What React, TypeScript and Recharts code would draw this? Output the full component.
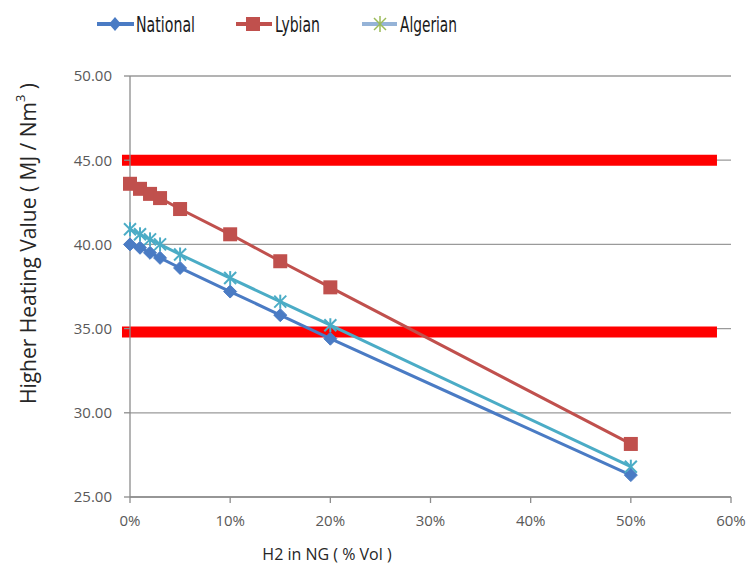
import React from "react";
import {
  LineChart,
  Line,
  XAxis,
  YAxis,
  CartesianGrid,
  ReferenceLine,
  Legend,
} from "recharts";

const h2Pct = [0, 1, 2, 3, 5, 10, 15, 20, 50];
const nationalHHV = [40.0, 39.8, 39.5, 39.2, 38.6, 37.2, 35.8, 34.4, 26.3];
const lybianHHV = [43.6, 43.3, 43.0, 42.75, 42.1, 40.6, 39.0, 37.45, 28.15];
const algerianHHV = [40.9, 40.6, 40.3, 40.0, 39.4, 38.0, 36.6, 35.2, 26.8];

const xTicks = [0, 10, 20, 30, 40, 50, 60];
const yTicks = [25, 30, 35, 40, 45, 50];
const limits = [45.0, 34.8];
const limitSpan = [-0.8, 58.6];

const data = h2Pct.map((x, i) => ({
  x,
  national: nationalHHV[i],
  lybian: lybianHHV[i],
  algerian: algerianHHV[i],
}));

const C_NAT = "#4A7BC4";
const C_LYB = "#C0504D";
const C_ALG = "#4BACC6";

const Diamond = (props: any) => {
  const { cx, cy } = props;
  if (cx == null || cy == null) return null;
  const r = 6.5;
  return (
    <path
      d={`M${cx},${cy - r} L${cx + r},${cy} L${cx},${cy + r} L${cx - r},${cy} Z`}
      fill={C_NAT}
      stroke={C_NAT}
    />
  );
};

const Square = (props: any) => {
  const { cx, cy } = props;
  if (cx == null || cy == null) return null;
  const s = 7;
  return <rect x={cx - s} y={cy - s} width={s * 2} height={s * 2} fill={C_LYB} />;
};

const Star = (props: any) => {
  const { cx, cy } = props;
  if (cx == null || cy == null) return null;
  const r = 6;
  return (
    <g stroke={C_ALG} strokeWidth={2}>
      <line x1={cx - r} y1={cy - r} x2={cx + r} y2={cy + r} />
      <line x1={cx - r} y1={cy + r} x2={cx + r} y2={cy - r} />
      <line x1={cx} y1={cy - r - 1} x2={cx} y2={cy + r + 1} />
    </g>
  );
};

const legendFont = "'DejaVu Sans Condensed', 'Liberation Sans Narrow', sans-serif";

const LegendText = ({ x, w, children }: any) => (
  <text
    x={x}
    y={32}
    fontSize={21}
    fill="#1a1a1a"
    fontFamily={legendFont}
    textLength={w}
    lengthAdjust="spacingAndGlyphs"
  >
    {children}
  </text>
);

const LegendContent = () => (
  <div style={{ height: 40, position: "relative", width: 753 }}>
    <svg width={753} height={40} style={{ position: "absolute", left: 0, top: 0 }}>
      <g>
        <line x1={97} y1={24} x2={134} y2={24} stroke={C_NAT} strokeWidth={4} />
        <path d="M115,17 L121,24 L115,31 L109,24 Z" fill={C_NAT} />
        <LegendText x={136} w={59}>National</LegendText>
      </g>
      <g>
        <line x1={236} y1={24} x2={272} y2={24} stroke={C_LYB} strokeWidth={4} />
        <rect x={246} y={17} width={14} height={14} fill={C_LYB} />
        <LegendText x={275} w={45}>Lybian</LegendText>
      </g>
      <g>
        <line x1={362} y1={24} x2={397} y2={24} stroke="#95B3D7" strokeWidth={4} />
        <g stroke="#9BBB59" strokeWidth={1.5}>
          <line x1={374} y1={18} x2={386} y2={30} />
          <line x1={374} y1={30} x2={386} y2={18} />
          <line x1={380} y1={16} x2={380} y2={32} />
        </g>
        <LegendText x={400} w={57}>Algerian</LegendText>
      </g>
    </svg>
  </div>
);

const YLabel = (props: any) => {
  const { viewBox } = props;
  const cx = 28;
  const cy = viewBox.y + viewBox.height / 2 - 43;
  return (
    <text
      x={cx}
      y={cy}
      transform={`rotate(-90 ${cx} ${cy})`}
      textAnchor="middle"
      dominantBaseline="central"
      fontSize={21}
      fill="#262626"
      fontFamily="'Open Sans', sans-serif"
    >
      Higher Heating Value ( MJ / Nm
      <tspan dy={-8} fontSize={13}>3</tspan>
      <tspan dy={8}> )</tspan>
    </text>
  );
};

const XLabel = (props: any) => {
  const { viewBox } = props;
  return (
    <text
      x={viewBox.x + 197}
      y={viewBox.y + 63}
      textAnchor="middle"
      fontSize={16}
      fill="#262626"
      fontFamily="'Open Sans', sans-serif"
    >
      H2 in NG ( % Vol )
    </text>
  );
};

export default function App() {
  const tickStyle = { fill: "#595959", fontSize: 15, fontFamily: "'Open Sans', sans-serif" };
  return (
    <div style={{ position: "absolute", left: 0, top: 0, background: "#fff" }}>
      <LineChart
        width={753}
        height={570}
        data={data}
        margin={{ top: 36, right: 22, bottom: 10, left: 20 }}
      >
        <Legend
          verticalAlign="top"
          align="left"
          content={<LegendContent />}
          wrapperStyle={{ top: 0, left: 0 }}
        />
        <CartesianGrid vertical={false} stroke="#9a9a9a" strokeWidth={1.3} />
        <XAxis
          dataKey="x"
          type="number"
          domain={[0, 60]}
          ticks={xTicks}
          tickFormatter={(v: number) => `${v}%`}
          stroke="#8c8c8c"
          strokeWidth={1.3}
          tick={tickStyle}
          tickSize={6}
          tickMargin={12}
          height={63}
          label={<XLabel />}
        />
        <YAxis
          type="number"
          domain={[25, 50]}
          ticks={yTicks}
          tickFormatter={(v: number) => v.toFixed(2)}
          stroke="#8c8c8c"
          strokeWidth={1.3}
          tick={tickStyle}
          tickSize={6}
          tickMargin={12}
          width={110}
          label={<YLabel />}
        />
        {limits.map((y) => (
          <ReferenceLine
            key={y}
            segment={[
              { x: limitSpan[0], y },
              { x: limitSpan[1], y },
            ]}
            stroke="#FF0000"
            strokeWidth={11}
            ifOverflow="visible"
          />
        ))}
        <Line
          dataKey="lybian"
          stroke={C_LYB}
          strokeWidth={3}
          dot={<Square />}
          activeDot={false}
          isAnimationActive={false}
        />
        <Line
          dataKey="algerian"
          stroke={C_ALG}
          strokeWidth={3}
          dot={<Star />}
          activeDot={false}
          isAnimationActive={false}
        />
        <Line
          dataKey="national"
          stroke={C_NAT}
          strokeWidth={3}
          dot={<Diamond />}
          activeDot={false}
          isAnimationActive={false}
        />
      </LineChart>
    </div>
  );
}
